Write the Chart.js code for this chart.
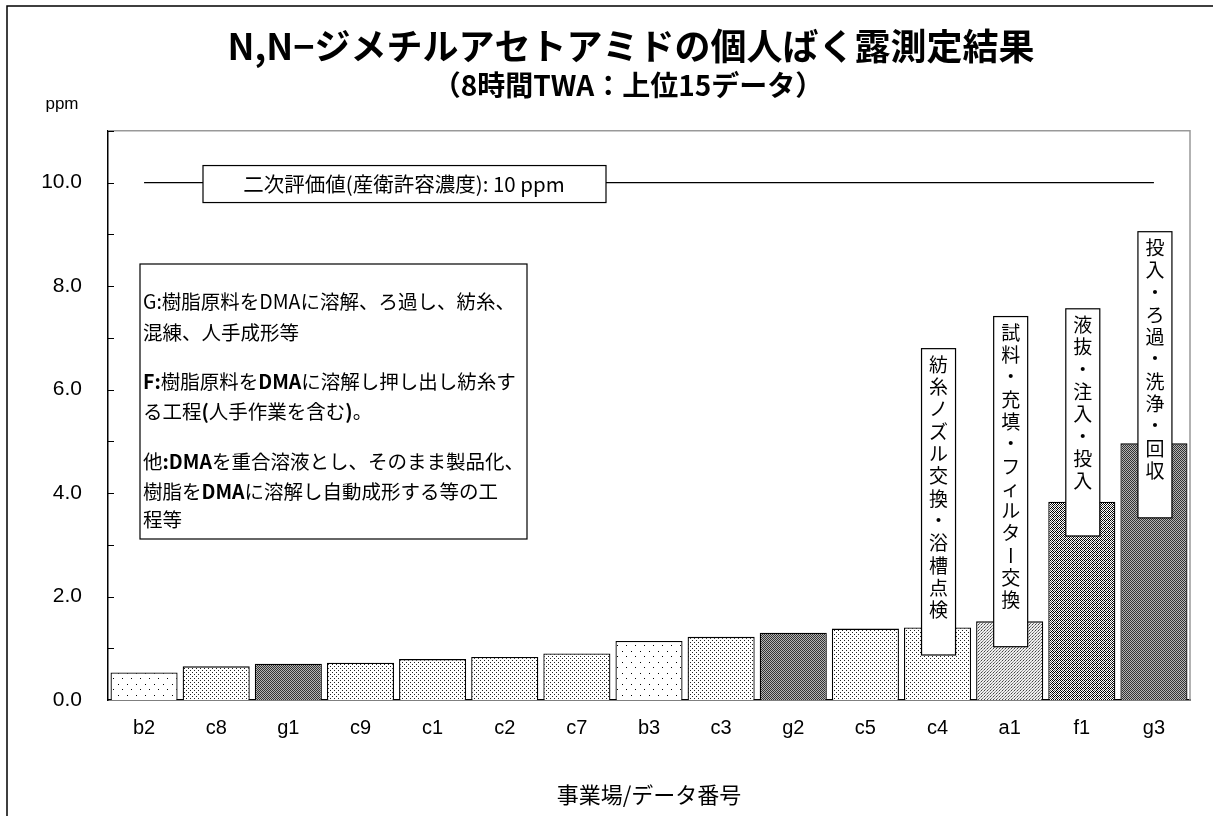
<!DOCTYPE html>
<html>
<head>
<meta charset="utf-8">
<script src="https://cdn.jsdelivr.net/npm/chart.js@4"></script>
<style>
  body { margin: 0; background: #fff; }
</style>
</head>
<body>
<canvas id="exposureChart" width="1213" height="816"></canvas>
<script>
// data (ppm, 8h TWA, top 15)
const categories = ['b2', 'c8', 'g1', 'c9', 'c1', 'c2', 'c7', 'b3', 'c3', 'g2', 'c5', 'c4', 'a1', 'f1', 'g3'];
const twaValues = [0.53, 0.65, 0.70, 0.72, 0.79, 0.83, 0.90, 1.14, 1.22, 1.30, 1.38, 1.40, 1.52, 3.83, 4.96];
const limitValues = categories.map(() => 10);
const yTickLabels = [0, 2, 4, 6, 8, 10];
const taskCategories = ['c4', 'a1', 'f1', 'g3'];
const taskLabels = ['紡糸ノズル交換・浴槽点検', '試料・充填・フィルター交換', '液抜・注入・投入', '投入・ろ過・洗浄・回収'];
const taskBoxTop = [6.79, 7.41, 7.56, 9.05];
const taskBoxBottom = [0.87, 1.03, 3.17, 3.52];

const JP = "'Noto Sans CJK JP', sans-serif";
const SANS = "'Liberation Sans', 'Noto Sans CJK JP', sans-serif";

// fill patterns per workplace letter
function makePattern(kind) {
    const c = document.createElement('canvas');
    const g = c.getContext('2d');
    const dot = (x, y, col) => { g.fillStyle = col; g.fillRect(x, y, 1, 1); };
    if (kind === 'b') {
        c.width = 9; c.height = 11;
        g.fillStyle = '#fff'; g.fillRect(0, 0, 9, 11);
        dot(1, 2, '#000'); dot(5, 7, '#000');
    } else if (kind === 'c') {
        c.width = 4; c.height = 4;
        g.fillStyle = '#fff'; g.fillRect(0, 0, 4, 4);
        dot(0, 0, '#222'); dot(2, 2, '#222');
    } else if (kind === 'a') {
        c.width = 3; c.height = 3;
        g.fillStyle = '#eee'; g.fillRect(0, 0, 3, 3);
        dot(0, 0, '#444'); dot(1, 2, '#777'); dot(2, 1, '#999');
    } else if (kind === 'f') {
        c.width = 4; c.height = 4;
        g.fillStyle = '#fff'; g.fillRect(0, 0, 4, 4);
        dot(0, 0, '#000'); dot(2, 0, '#000'); dot(1, 1, '#000'); dot(3, 1, '#555');
        dot(0, 2, '#000'); dot(2, 2, '#555'); dot(1, 3, '#000'); dot(3, 3, '#000');
    } else {
        c.width = 2; c.height = 2;
        g.fillStyle = '#b4b4b4'; g.fillRect(0, 0, 2, 2);
        dot(0, 0, '#333'); dot(1, 1, '#333');
    }
    return g.createPattern(c, 'repeat');
}
const patterns = {};
['a', 'b', 'c', 'f', 'g'].forEach(k => patterns[k] = makePattern(k));
const barFills = categories.map(cat => patterns[cat[0]]);

// boxes, frames and inside ticks drawn on top of the chart
const decorations = {
    id: 'decorations',
    beforeDraw(chart) {
        const ctx = chart.ctx;
        ctx.save();
        ctx.fillStyle = '#fff';
        ctx.fillRect(0, 0, chart.width, chart.height);
        ctx.strokeStyle = '#000';
        ctx.lineWidth = 1.5;
        ctx.beginPath();
        ctx.moveTo(7, chart.height);
        ctx.lineTo(7, 6);
        ctx.lineTo(chart.width, 6);
        ctx.stroke();
        ctx.fillStyle = '#000';
        ctx.font = '17px ' + SANS;
        ctx.textAlign = 'center';
        ctx.textBaseline = 'middle';
        ctx.fillText('ppm', 62, 104);
        ctx.restore();
    },
    afterDatasetsDraw(chart) {
        const ctx = chart.ctx;
        const a = chart.chartArea;
        const x = chart.scales.x;
        const y = chart.scales.y;
        ctx.save();

        // plot frame top/right in grey
        ctx.strokeStyle = '#999';
        ctx.lineWidth = 1.5;
        ctx.beginPath();
        ctx.moveTo(a.left, a.top);
        ctx.lineTo(a.right, a.top);
        ctx.lineTo(a.right, a.bottom);
        ctx.stroke();

        // inside ticks
        ctx.strokeStyle = '#000';
        ctx.lineWidth = 1;
        for (let v = 1; v <= 11; v++) {
            const py = Math.round(y.getPixelForValue(v)) + 0.5;
            ctx.beginPath();
            ctx.moveTo(a.left, py);
            ctx.lineTo(a.left + 6, py);
            ctx.stroke();
        }

        // 10 ppm label box
        const ly = y.getPixelForValue(10);
        ctx.fillStyle = '#fff';
        ctx.fillRect(203, ly - 17, 403, 37);
        ctx.strokeStyle = '#000';
        ctx.lineWidth = 1.2;
        ctx.strokeRect(203, ly - 17, 403, 37);
        ctx.fillStyle = '#000';
        ctx.font = '20.5px ' + JP;
        ctx.textAlign = 'center';
        ctx.textBaseline = 'middle';
        ctx.fillText('二次評価値(産衛許容濃度): 10 ppm', 404, ly + 2);

        // process description box
        const bx = 140, by = 264;
        ctx.fillStyle = '#fff';
        ctx.fillRect(bx, by, 387, 275);
        ctx.strokeRect(bx, by, 387, 275);
        const lines = [
            [302, [['G:樹脂原料をDMAに溶解、ろ過し、紡糸、', false]]],
            [333, [['混練、人手成形等', false]]],
            [382, [['F:', true], ['樹脂原料を', false], ['DMA', true], ['に溶解し押し出し紡糸す', false]]],
            [412, [['る工程', false], ['(', true], ['人手作業を含む', false], [')', true], ['。', false]]],
            [462, [['他', false], [':DMA', true], ['を重合溶液とし、そのまま製品化、', false]]],
            [492, [['樹脂を', false], ['DMA', true], ['に溶解し自動成形する等の工', false]]],
            [520, [['程等', false]]]
        ];
        ctx.textAlign = 'left';
        ctx.fillStyle = '#000';
        lines.forEach(([ty, segs]) => {
            let tx = bx + 3;
            segs.forEach(([s, bold]) => {
                ctx.font = (bold ? 'bold ' : '') + '19.5px ' + JP;
                ctx.fillText(s, tx, ty);
                tx += ctx.measureText(s).width;
            });
        });

        // vertical task boxes over the highest bars
        ctx.font = '19px ' + JP;
        ctx.textAlign = 'center';
        taskCategories.forEach((cat, i) => {
            const cx = x.getPixelForValue(categories.indexOf(cat)) + 1;
            const top = y.getPixelForValue(taskBoxTop[i]);
            const bot = y.getPixelForValue(taskBoxBottom[i]);
            ctx.fillStyle = '#fff';
            ctx.fillRect(cx - 17, top, 34, bot - top);
            ctx.strokeStyle = '#000';
            ctx.lineWidth = 1.2;
            ctx.strokeRect(cx - 17, top, 34, bot - top);
            ctx.fillStyle = '#000';
            [...taskLabels[i]].forEach((ch, k) => {
                const cy = top + 16 + k * 22.3;
                if (ch === 'ー') {
                    ctx.save();
                    ctx.translate(cx, cy);
                    ctx.rotate(Math.PI / 2);
                    ctx.fillText(ch, 0, 0);
                    ctx.restore();
                } else {
                    ctx.fillText(ch, cx, cy);
                }
            });
        });
        ctx.restore();
    }
};

const ctx = document.getElementById('exposureChart').getContext('2d');
const exposureChart = new Chart(ctx, {
    data: {
        labels: categories,
        datasets: [
            {
                type: 'line',
                label: '二次評価値',
                data: limitValues,
                borderColor: '#000',
                borderWidth: 1.2,
                pointRadius: 0,
                fill: false
            },
            {
                type: 'bar',
                label: '8時間TWA',
                data: twaValues,
                backgroundColor: barFills,
                borderColor: '#000',
                borderWidth: 1.3,
                barPercentage: 0.93,
                categoryPercentage: 1.0
            }
        ]
    },
    options: {
        responsive: false,
        animation: false,
        layout: { padding: { left: 0, right: 23, top: 0, bottom: 4 } },
        plugins: {
            legend: { display: false },
            tooltip: { enabled: false },
            title: {
                display: true,
                fullSize: false,
                // trailing ideographic space nudges the centred title left, as in the original
                text: 'N,N−ジメチルアセトアミドの個人ばく露測定結果　',
                color: '#000',
                font: { family: JP, size: 36, weight: 'bold' },
                padding: { top: 25, bottom: 0 }
            },
            subtitle: {
                display: true,
                fullSize: false,
                text: '（8時間TWA：上位15データ）　　',
                color: '#000',
                font: { family: JP, size: 28, weight: 'bold' },
                padding: { top: 0, bottom: 29 }
            }
        },
        scales: {
            x: {
                offset: true,
                grid: { display: false, drawTicks: false },
                border: { color: '#000', width: 1.5 },
                ticks: { color: '#000', font: { family: SANS, size: 20 }, padding: 16 },
                title: {
                    display: true,
                    text: '事業場/データ番号',
                    color: '#000',
                    font: { family: JP, size: 22 }
                },
                afterFit(scale) { scale.height = 112; }
            },
            y: {
                min: 0,
                max: 11,
                grid: { display: false, drawTicks: false },
                border: { color: '#000', width: 1.5 },
                ticks: {
                    stepSize: 1,
                    color: '#000',
                    font: { family: SANS, size: 21 },
                    padding: 26,
                    callback: v => yTickLabels.includes(v) ? v.toFixed(1) : ''
                },
                afterFit(scale) { scale.width = 108; }
            }
        }
    },
    plugins: [decorations]
});
</script>
</body>
</html>
